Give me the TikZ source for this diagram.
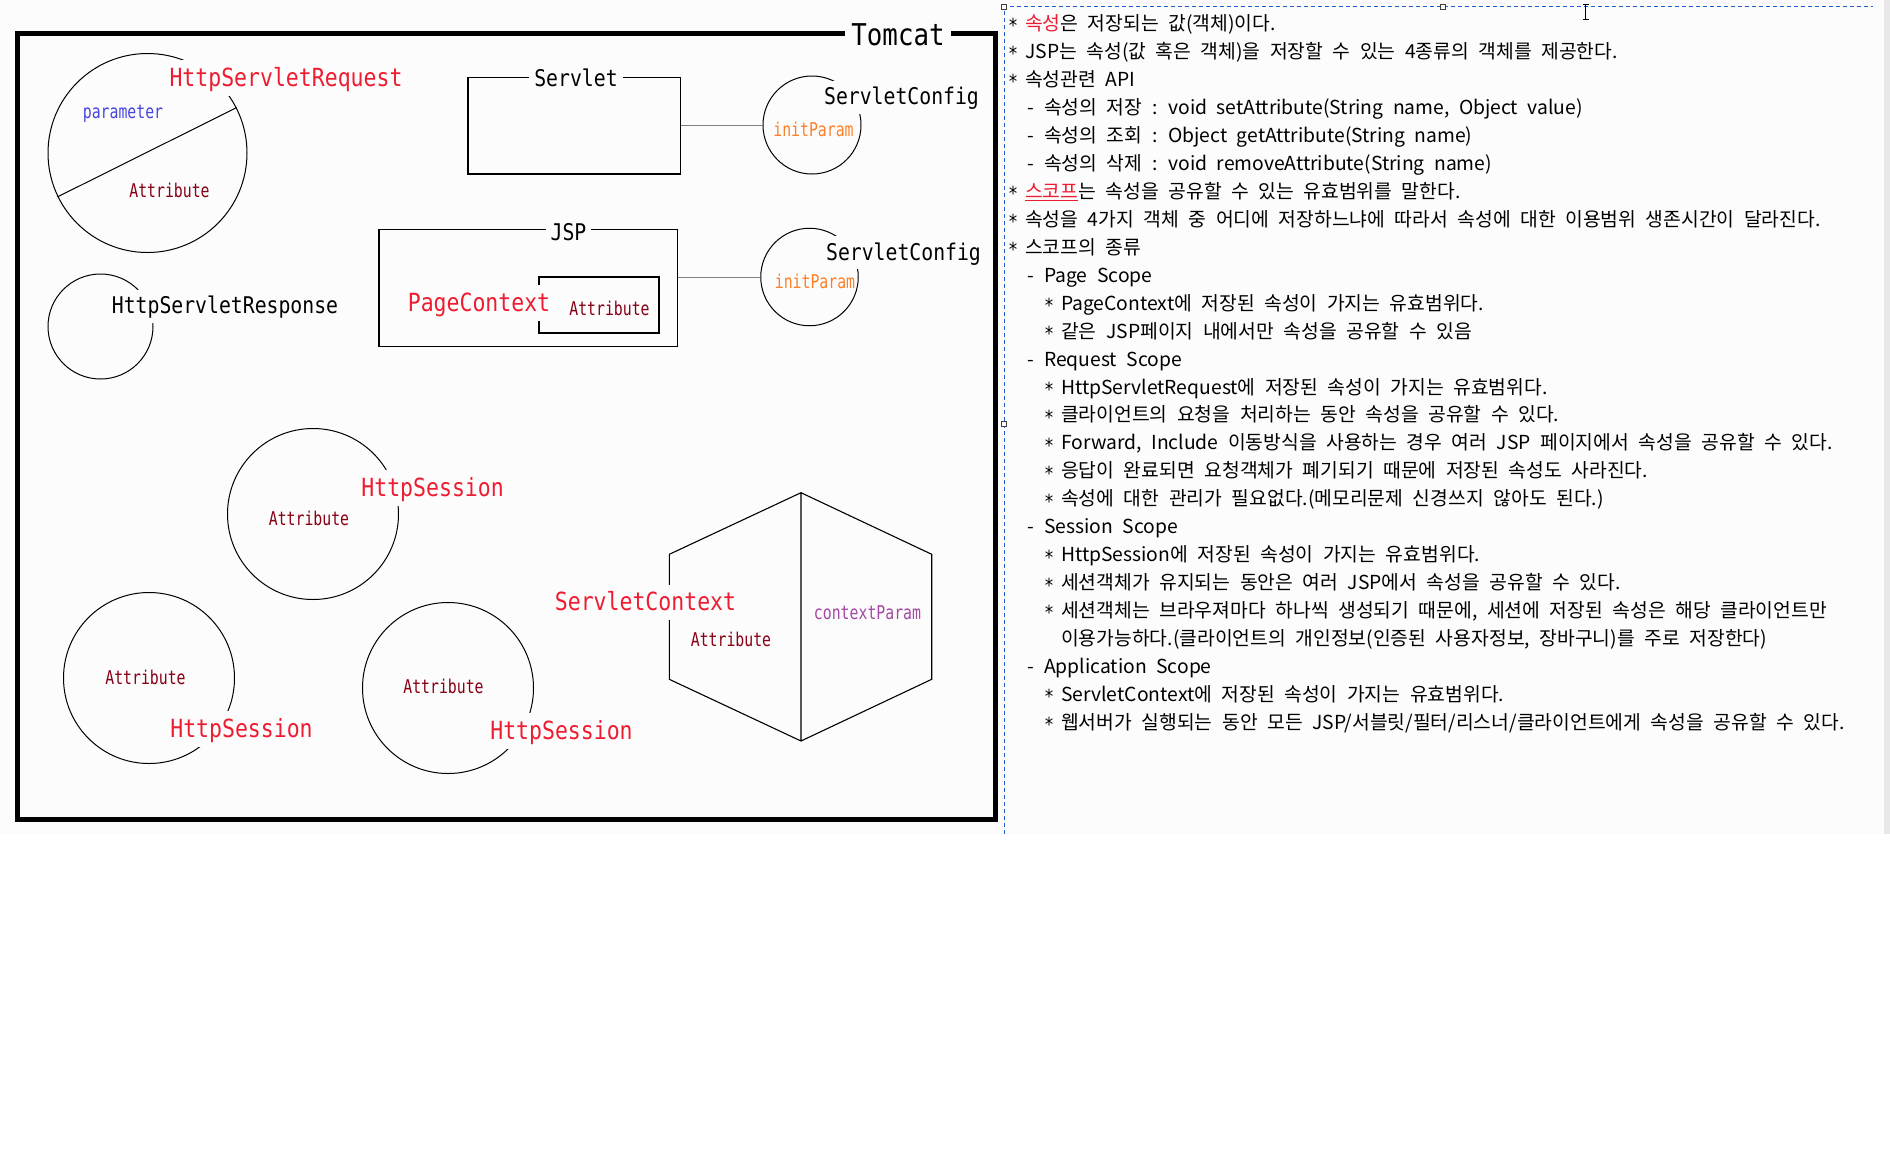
\documentclass[tikz,border=0pt]{standalone}
\usepackage{fontspec}
\usepackage{xcolor}
\usepackage{tikz}
\setmainfont{DejaVu Sans}
\newfontfamily\labelfont[FakeStretch=0.86]{DejaVu Sans Mono}
\newfontfamily\tagfont[FakeStretch=0.78]{DejaVu Sans Mono}
\newfontfamily\kofont[WordSpace=2.2]{Noto Sans CJK KR}
\definecolor{labelred}{RGB}{237, 28, 48}
\definecolor{attrred}{RGB}{136, 0, 21}
\definecolor{parablue}{RGB}{70, 70, 220}
\definecolor{initorange}{RGB}{255, 127, 39}
\definecolor{ctxpurple}{RGB}{163, 73, 164}
\definecolor{linkgray}{RGB}{128, 128, 128}
\definecolor{selblue}{RGB}{30, 95, 210}
\definecolor{shotgray}{RGB}{252, 252, 252}
\definecolor{edgegray}{RGB}{232, 232, 232}
\usetikzlibrary{positioning,calc}
\newcommand{\bul}{\makebox[17pt][l]{\labelfont\raisebox{-.12em}{*}}}
\newcommand{\dsh}{\makebox[17pt][l]{-}}

\begin{document}
\begin{tikzpicture}[x=1pt, y=-1pt,
    panel/.style={rectangle, draw, line width=1.2pt, inner sep=0pt},
    obj/.style={circle, draw, line width=1pt, inner sep=0pt, minimum size=#1},
    title/.style={anchor=base, fill=shotgray, inner xsep=5pt, inner ysep=2pt},
    redname/.style={title, text=labelred, text height=23.75pt, text depth=7.5pt,
        font=\labelfont\fontsize{25}{30}\selectfont},
    blackname/.style={title, text=black, text height=21.85pt, text depth=6.9pt,
        font=\labelfont\fontsize{23}{28}\selectfont},
    attr/.style={anchor=base, inner sep=1pt, text=attrred, font=\tagfont\fontsize{19}{23}\selectfont},
    link/.style={draw=linkgray, line width=1pt},
    note/.style={anchor=base west, inner sep=0pt, font=\kofont\fontsize{19.3}{23}\selectfont},
    handle/.style={rectangle, draw=darkgray, fill=white, line width=0.8pt, minimum size=5pt, inner sep=0pt}
]
    \useasboundingbox (0,0) rectangle (1890,1168);
    % screenshot background
    \fill[shotgray] (0,0) rectangle (1890,834);
    \fill[edgegray] (1884,0) rectangle (1890,834);

    % Tomcat container
    \node[draw, line width=5pt, inner sep=0pt, minimum width=977.5, minimum height=786] (tomcat) at (506.25,426.5) {};
    \node[title, text height=28.5pt, text depth=9pt, inner xsep=6pt,
        font=\labelfont\fontsize{30}{36}\selectfont] (tomcatlbl) at (898,45) {Tomcat};

    % request / response
    \node[obj=199] (req) at (147.5,153) {};
    \draw[line width=1pt] (req.206) -- (req.27);
    \node[redname] (reqlbl) at (286,86.2) {HttpServletRequest};
    \node[attr, text=parablue] (reqparam) at (123,118) {parameter};
    \node[attr] (reqattr) at (169.5,197) {Attribute};

    \node[obj=105] (resp) at (100.5,326.5) {};
    \node[blackname] (resplbl) at (225,313.8) {HttpServletResponse};

    % Servlet and its config
    \node[panel, minimum width=212.5, minimum height=96.7] (servlet) at (574.2,125.7) {};
    \node[blackname] (servletlbl) at (576,86) {Servlet};
    \node[obj=98] (cfgA) at (812,125) {};
    \draw[link] (servlet.east |- cfgA.west) -- (cfgA.west);
    \node[blackname] (cfgAlbl) at (901.5,104.8) {ServletConfig};
    \node[attr, text=initorange] (cfgAinit) at (813.5,136) {initParam};

    % JSP and its config
    \node[panel, minimum width=298.5, minimum height=117] (jsp) at (528.25,288) {};
    \node[blackname] (jsplbl) at (568.5,240) {JSP};
    \node[panel, minimum width=120, minimum height=56] (pageattr) at (599,305) {};
    \node[redname] (pagelbl) at (479,311) {PageContext};
    \node[attr] (pageattrlbl) at (609.5,315) {Attribute};
    \node[obj=97.5] (cfgB) at (809.5,277) {};
    \draw[link] (jsp.east |- cfgB.west) -- (cfgB.west);
    \node[blackname] (cfgBlbl) at (903.5,260) {ServletConfig};
    \node[attr, text=initorange] (cfgBinit) at (815,288) {initParam};

    % sessions
    \node[obj=171] (sesA) at (313,514) {};
    \node[redname] (sesAlbl) at (432.6,496) {HttpSession};
    \node[attr] (sesAattr) at (309,525) {Attribute};

    \node[obj=171] (sesB) at (149,678) {};
    \node[redname] (sesBlbl) at (241.5,737) {HttpSession};
    \node[attr] (sesBattr) at (145.5,684) {Attribute};

    \node[obj=171] (sesC) at (448,688) {};
    \node[redname] (sesClbl) at (561.5,739) {HttpSession};
    \node[attr] (sesCattr) at (443.5,693) {Attribute};

    % application (ServletContext)
    \coordinate (ctxT) at (801,492.7);
    \coordinate (ctxUL) at (669.3,554.3);
    \coordinate (ctxLL) at (669.3,679.3);
    \coordinate (ctxB) at (801,741);
    \coordinate (ctxLR) at (931.7,679.3);
    \coordinate (ctxUR) at (931.7,554.3);
    \draw[line width=1.1pt] (ctxT) -- (ctxUL) -- (ctxLL) -- (ctxB) -- (ctxLR) -- (ctxUR) -- cycle
        (ctxT) -- (ctxB);
    \node[redname] (ctxlbl) at (645.5,610.7) {ServletContext};
    \node[attr] (ctxattr) at (731,646.7) {Attribute};
    \node[attr, text=ctxpurple] (ctxparam) at (867.5,619) {contextParam};

    % selection frame of the notes
    \draw[selblue, line width=1pt, dash pattern=on 4pt off 3pt] (1004,834) -- (1004,6.7) -- (1873,6.7);
    \node[handle] (hdlA) at (1004,6.7) {};
    \node[handle] (hdlB) at (1443,6.7) {};
    \node[handle] (hdlC) at (1004,424) {};
    \draw[line width=1pt] (1585.5,4.5) -- (1585.5,19.3)
        (1582.5,4.5) -- (1588.5,4.5) (1582.5,19.3) -- (1588.5,19.3);

    % notes
    \node[note] (txt1) at (1008,30.5) {\bul\textcolor{labelred}{속성}은 저장되는 값(객체)이다.};
    \node[note] (txt2) at (1008,58.5) {\bul JSP는 속성(값 혹은 객체)을 저장할 수 있는 4종류의 객체를 제공한다.};
    \node[note] (txt3) at (1008,86.4) {\bul 속성관련 API};
    \node[note] (txt4) at (1027,114.4) {\dsh 속성의 저장 : void setAttribute(String name, Object value)};
    \node[note] (txt5) at (1027,142.3) {\dsh 속성의 조회 : Object getAttribute(String name)};
    \node[note] (txt6) at (1027,170.3) {\dsh 속성의 삭제 : void removeAttribute(String name)};
    \node[note] (txt7) at (1008,198.3) {\bul\textcolor{labelred}{\underline{스코프}}는 속성을 공유할 수 있는 유효범위를 말한다.};
    \node[note] (txt8) at (1008,226.2) {\bul 속성을 4가지 객체 중 어디에 저장하느냐에 따라서 속성에 대한 이용범위 생존시간이 달라진다.};
    \node[note] (txt9) at (1008,254.2) {\bul 스코프의 종류};
    \node[note] (txt10) at (1027,282.1) {\dsh Page Scope};
    \node[note] (txt11) at (1044,310.1) {\bul PageContext에 저장된 속성이 가지는 유효범위다.};
    \node[note] (txt12) at (1044,338.1) {\bul 같은 JSP페이지 내에서만 속성을 공유할 수 있음};
    \node[note] (txt13) at (1027,366.0) {\dsh Request Scope};
    \node[note] (txt14) at (1044,394.0) {\bul HttpServletRequest에 저장된 속성이 가지는 유효범위다.};
    \node[note] (txt15) at (1044,421.9) {\bul 클라이언트의 요청을 처리하는 동안 속성을 공유할 수 있다.};
    \node[note] (txt16) at (1044,449.9) {\bul Forward, Include 이동방식을 사용하는 경우 여러 JSP 페이지에서 속성을 공유할 수 있다.};
    \node[note] (txt17) at (1044,477.9) {\bul 응답이 완료되면 요청객체가 폐기되기 때문에 저장된 속성도 사라진다.};
    \node[note] (txt18) at (1044,505.8) {\bul 속성에 대한 관리가 필요없다.(메모리문제 신경쓰지 않아도 된다.)};
    \node[note] (txt19) at (1027,533.8) {\dsh Session Scope};
    \node[note] (txt20) at (1044,561.7) {\bul HttpSession에 저장된 속성이 가지는 유효범위다.};
    \node[note] (txt21) at (1044,589.7) {\bul 세션객체가 유지되는 동안은 여러 JSP에서 속성을 공유할 수 있다.};
    \node[note] (txt22) at (1044,617.6) {\bul 세션객체는 브라우져마다 하나씩 생성되기 때문에, 세션에 저장된 속성은 해당 클라이언트만};
    \node[note] (txt23) at (1061,645.6) {이용가능하다.(클라이언트의 개인정보(인증된 사용자정보, 장바구니)를 주로 저장한다)};
    \node[note] (txt24) at (1027,673.6) {\dsh Application Scope};
    \node[note] (txt25) at (1044,701.5) {\bul ServletContext에 저장된 속성이 가지는 유효범위다.};
    \node[note] (txt26) at (1044,729.5) {\bul 웹서버가 실행되는 동안 모든 JSP/서블릿/필터/리스너/클라이언트에게 속성을 공유할 수 있다.};
\end{tikzpicture}
\end{document}
